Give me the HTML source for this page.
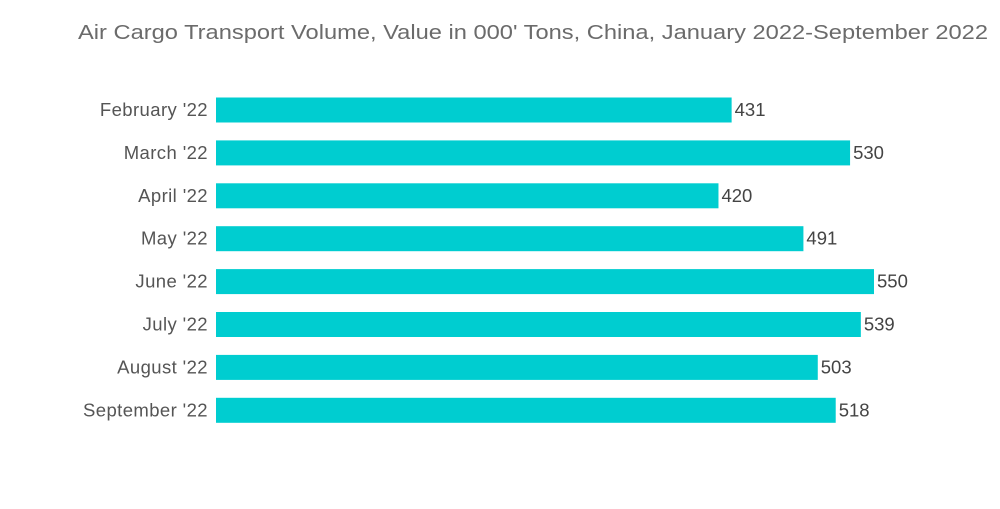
<!DOCTYPE html>
<html><head><meta charset="utf-8"><style>
body{margin:0;background:#fff;width:1000px;height:504px;overflow:hidden;font-family:"Liberation Sans",sans-serif}
</style></head><body>
<svg id="chart" width="1000" height="504">
<text x="533" y="39" text-anchor="middle" font-size="20" textLength="910" lengthAdjust="spacingAndGlyphs" fill="#6b6b6b">Air Cargo Transport Volume, Value in 000' Tons, China, January 2022-September 2022</text>
<g id="bars"></g>
</svg>
<script>
const categories=["February '22","March '22","April '22","May '22","June '22","July '22","August '22","September '22"];
const values=[431,530,420,491,550,539,503,518];
const x0=216, scale=(874-216)/550, y0=110, step=42.9, bh=25;
const g=document.getElementById('bars');
const ns='http://www.w3.org/2000/svg';
categories.forEach((c,i)=>{
  const cy=y0+i*step;
  const r=document.createElementNS(ns,'rect');
  
  
  r.setAttribute('x',x0);r.setAttribute('y',cy-bh/2);
  r.setAttribute('width',values[i]*scale);r.setAttribute('height',bh);
  r.setAttribute('fill','#00cdd0');g.appendChild(r);
  const t=document.createElementNS(ns,'text');
  
  
  t.setAttribute('x',208);t.setAttribute('y',cy+6);t.setAttribute('text-anchor','end');
  t.setAttribute('font-size','18.5');t.setAttribute('letter-spacing','0.4');t.setAttribute('fill','#555');t.textContent=c;g.appendChild(t);
  const v=document.createElementNS(ns,'text');
  
  
  v.setAttribute('x',x0+values[i]*scale+3);v.setAttribute('y',cy+6);
  v.setAttribute('font-size','18.5');v.setAttribute('fill','#444');v.textContent=values[i];g.appendChild(v);
});
</script>
</body></html>
